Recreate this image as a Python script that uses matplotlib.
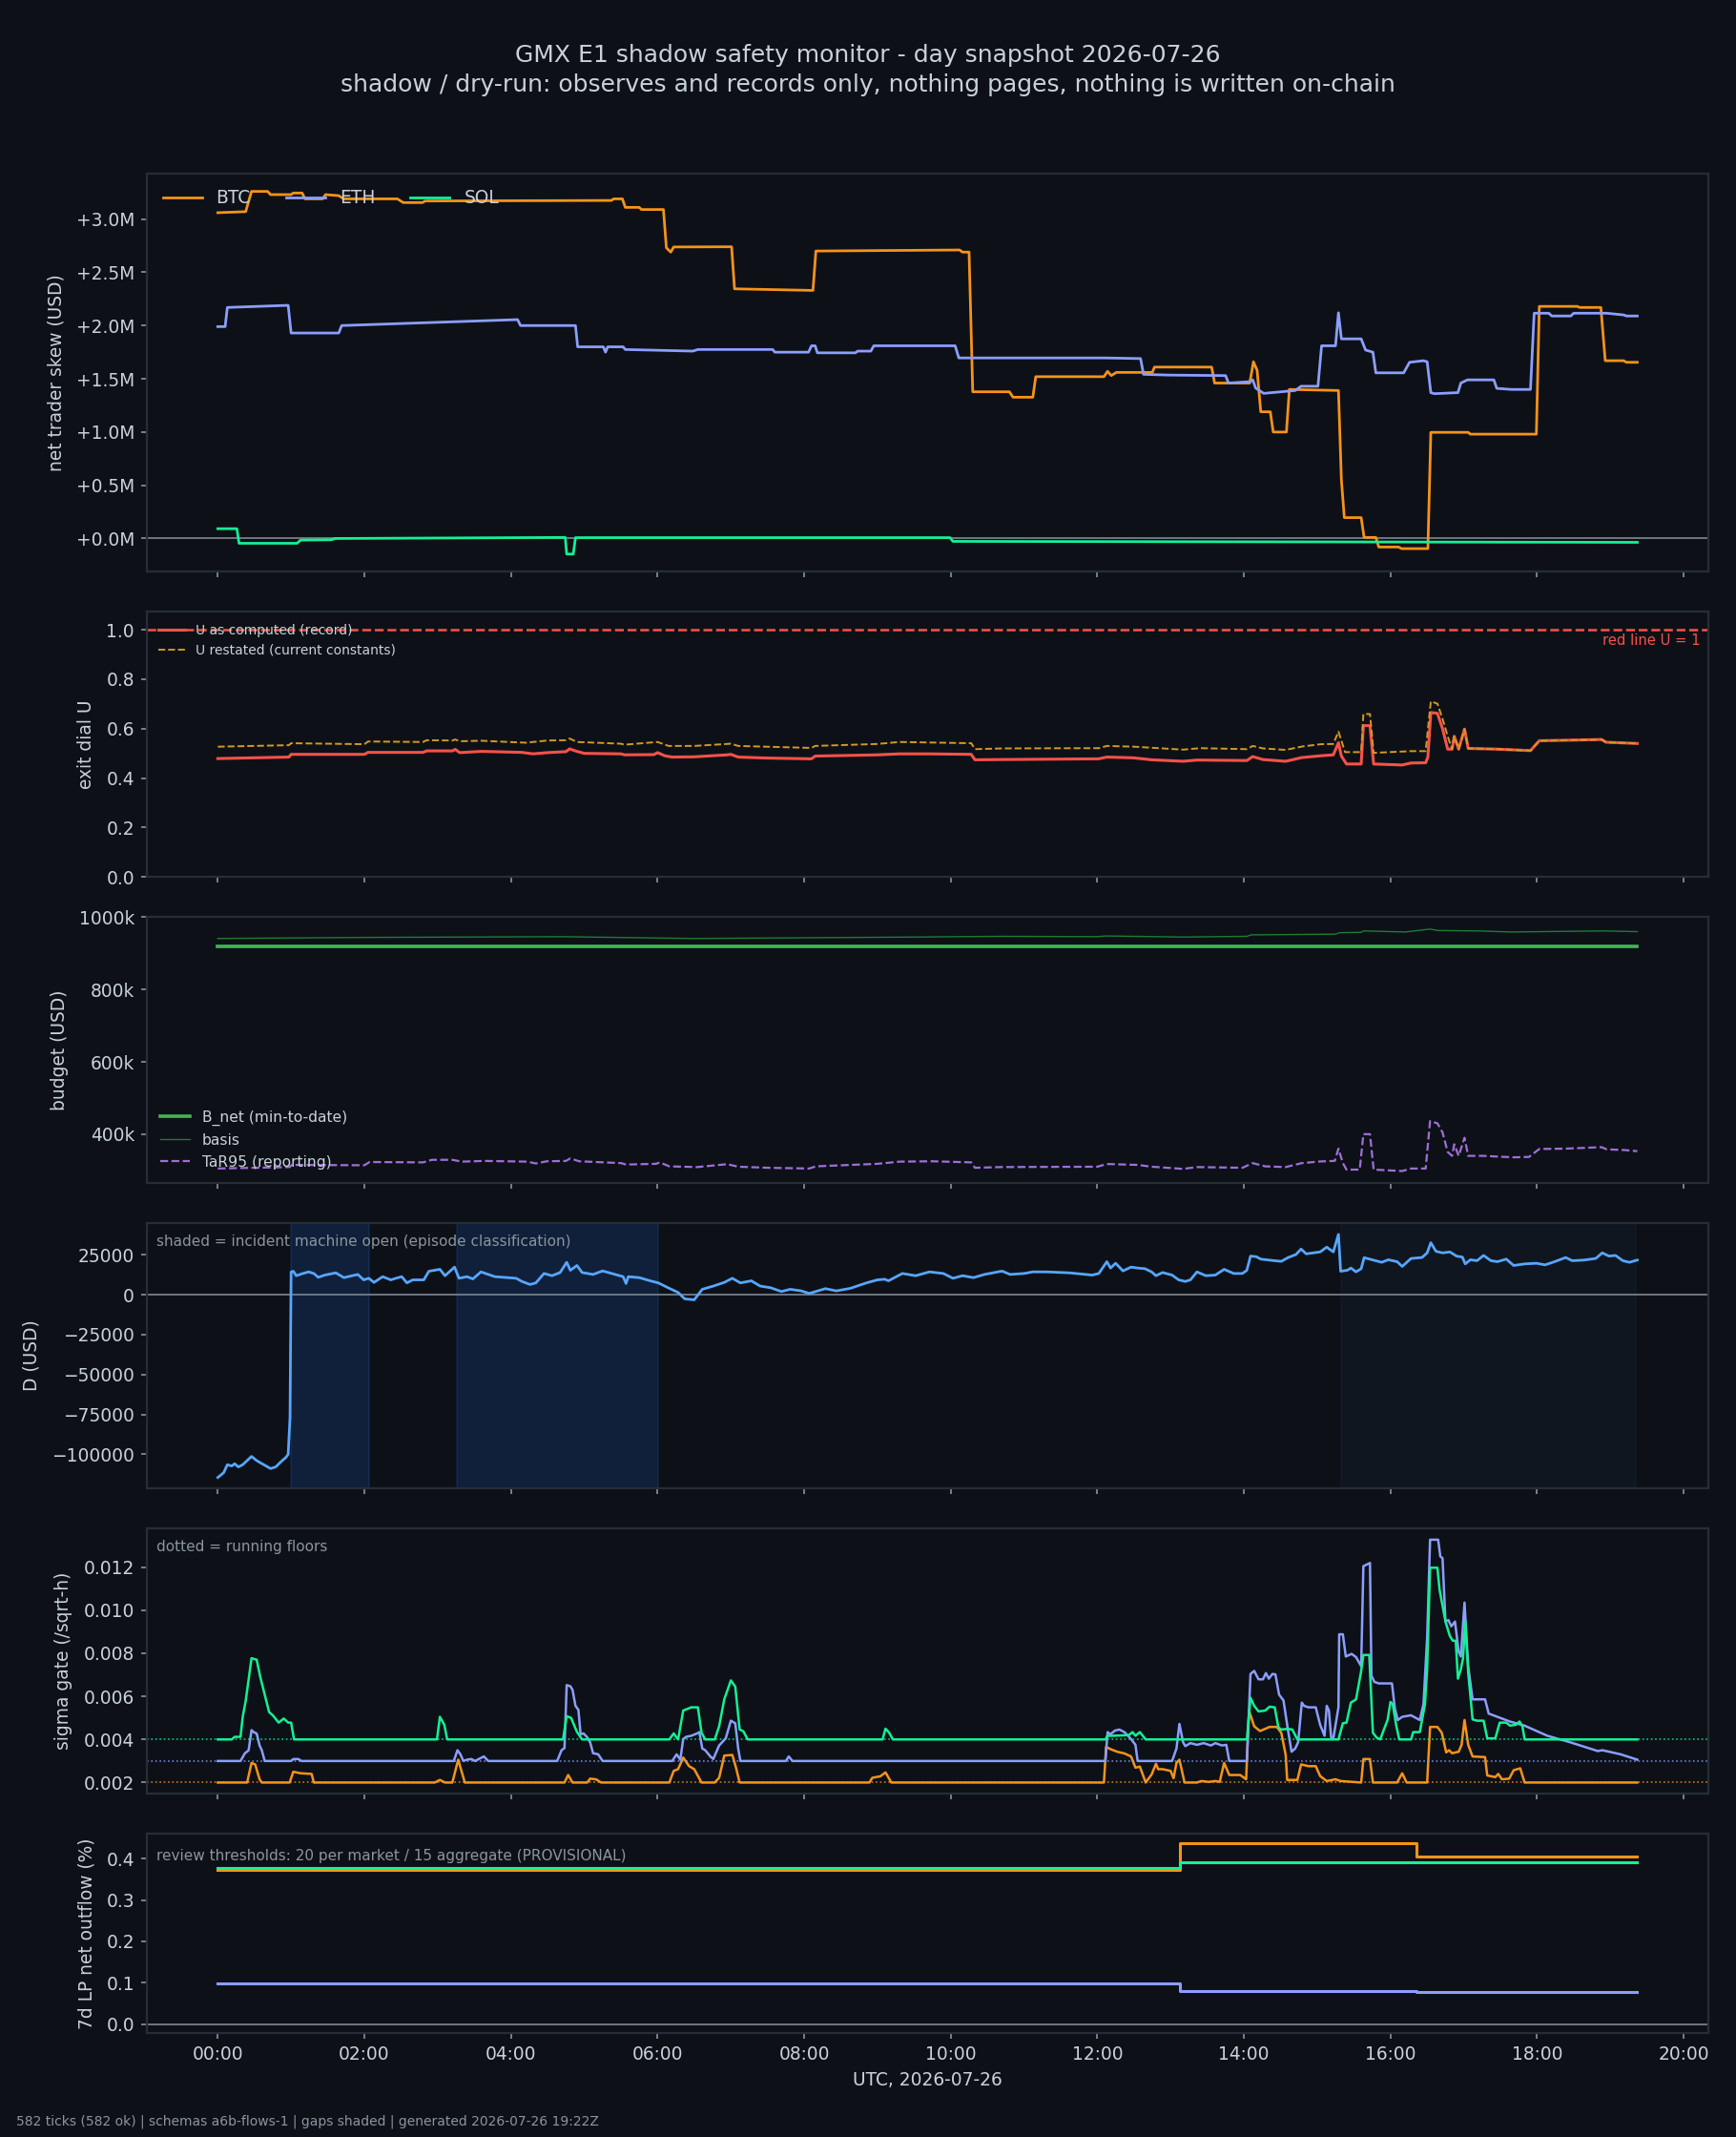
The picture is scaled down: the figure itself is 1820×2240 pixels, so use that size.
import matplotlib
matplotlib.use("Agg")
import matplotlib.pyplot as plt
import matplotlib.transforms as mtransforms
from matplotlib.ticker import FuncFormatter, MultipleLocator

# ---- data (hours since 00:00 UTC, value) ----
btc_skew = [(0, 3.06), (0.38, 3.07), (0.46, 3.26), (0.68, 3.26), (0.72, 3.23), (1.00, 3.23), (1.03, 3.245),
            (1.15, 3.245), (1.19, 3.19), (1.43, 3.19), (1.47, 3.23), (1.65, 3.22), (1.72, 3.19), (2.45, 3.19),
            (2.53, 3.155), (2.79, 3.155), (2.83, 3.17), (5.37, 3.175), (5.40, 3.19), (5.52, 3.19), (5.56, 3.11),
            (5.75, 3.11), (5.78, 3.09), (6.08, 3.09), (6.12, 2.73), (6.18, 2.69), (6.22, 2.738), (7.01, 2.74),
            (7.05, 2.345), (8.12, 2.33), (8.16, 2.70), (10.12, 2.71), (10.16, 2.69), (10.25, 2.69), (10.30, 1.378),
            (10.80, 1.378), (10.85, 1.327), (11.12, 1.327), (11.16, 1.52), (12.09, 1.52), (12.14, 1.57),
            (12.19, 1.53), (12.26, 1.56), (12.75, 1.56), (12.78, 1.61), (13.56, 1.61), (13.60, 1.46), (14.08, 1.46),
            (14.13, 1.66), (14.18, 1.58), (14.23, 1.19), (14.36, 1.19), (14.40, 1.00), (14.58, 1.00), (14.62, 1.40),
            (15.29, 1.39), (15.33, 0.55), (15.37, 0.196), (15.60, 0.196), (15.64, 0.01), (15.80, 0.01),
            (15.84, -0.08), (16.11, -0.08), (16.15, -0.095), (16.51, -0.095), (16.55, 0.997), (17.06, 0.997),
            (17.09, 0.98), (17.99, 0.98), (18.03, 2.18), (18.55, 2.18), (18.58, 2.17), (18.87, 2.17), (18.93, 1.67),
            (19.18, 1.67), (19.22, 1.655), (19.367, 1.655)]
eth_skew = [(0, 1.99), (0.10, 1.99), (0.13, 2.17), (0.96, 2.19), (1.00, 1.93), (1.65, 1.93), (1.69, 2.00),
            (4.09, 2.056), (4.13, 2.00), (4.88, 2.00), (4.91, 1.80), (5.26, 1.80), (5.29, 1.75), (5.32, 1.80),
            (5.53, 1.80), (5.56, 1.775), (6.48, 1.76), (6.55, 1.775), (7.57, 1.775), (7.60, 1.75), (8.06, 1.75),
            (8.10, 1.81), (8.15, 1.81), (8.18, 1.744), (8.70, 1.744), (8.73, 1.76), (8.91, 1.76), (8.95, 1.81),
            (10.06, 1.81), (10.11, 1.696), (12.10, 1.696), (12.59, 1.69), (12.63, 1.542), (12.97, 1.535),
            (13.75, 1.53), (13.79, 1.46), (14.08, 1.473), (14.12, 1.49), (14.16, 1.413), (14.27, 1.363),
            (14.70, 1.39), (14.78, 1.43), (15.01, 1.43), (15.06, 1.81), (15.25, 1.81), (15.29, 2.12), (15.33, 1.875),
            (15.60, 1.875), (15.66, 1.77), (15.76, 1.75), (15.80, 1.556), (16.18, 1.556), (16.26, 1.655),
            (16.45, 1.67), (16.50, 1.66), (16.55, 1.37), (16.60, 1.36), (16.92, 1.37), (16.96, 1.46), (17.05, 1.49),
            (17.41, 1.49), (17.45, 1.41), (17.65, 1.40), (17.91, 1.40), (17.96, 2.116), (18.16, 2.116),
            (18.20, 2.09), (18.46, 2.09), (18.50, 2.116), (18.95, 2.116), (19.18, 2.10), (19.22, 2.09),
            (19.367, 2.09)]
sol_skew = [(0, 0.092), (0.26, 0.092), (0.29, -0.045), (1.08, -0.045), (1.13, -0.015), (1.55, -0.012),
            (1.60, 0.0), (4.74, 0.01), (4.76, -0.146), (4.85, -0.146), (4.88, 0.008), (9.99, 0.008),
            (10.03, -0.027), (19.367, -0.036)]

u_computed = [(0, 0.479), (0.97, 0.485), (1.00, 0.496), (2.00, 0.496), (2.05, 0.504), (2.80, 0.504),
              (2.85, 0.510), (3.20, 0.510), (3.24, 0.516), (3.30, 0.503), (3.60, 0.508), (4.15, 0.504),
              (4.30, 0.498), (4.50, 0.503), (4.75, 0.507), (4.80, 0.518), (4.90, 0.508), (5.00, 0.500),
              (5.50, 0.498), (5.55, 0.494), (5.95, 0.495), (6.00, 0.503), (6.10, 0.490), (6.20, 0.485),
              (6.50, 0.486), (6.95, 0.494), (7.00, 0.496), (7.10, 0.485), (7.50, 0.481), (8.10, 0.478),
              (8.15, 0.489), (8.50, 0.491), (9.00, 0.494), (9.30, 0.498), (9.70, 0.498), (10.28, 0.496),
              (10.33, 0.474), (10.70, 0.475), (12.02, 0.478), (12.13, 0.485), (12.49, 0.482), (12.74, 0.474),
              (13.17, 0.468), (13.36, 0.473), (14.04, 0.471), (14.12, 0.487), (14.26, 0.475), (14.57, 0.468),
              (14.79, 0.483), (15.04, 0.490), (15.22, 0.494), (15.29, 0.543), (15.33, 0.489), (15.40, 0.457),
              (15.60, 0.457), (15.63, 0.612), (15.72, 0.612), (15.77, 0.457), (16.16, 0.453), (16.28, 0.461),
              (16.48, 0.462), (16.51, 0.485), (16.55, 0.665), (16.64, 0.662), (16.71, 0.600), (16.78, 0.517),
              (16.84, 0.517), (16.87, 0.569), (16.93, 0.517), (17.01, 0.598), (17.06, 0.520), (17.46, 0.517),
              (17.91, 0.511), (18.03, 0.551), (18.39, 0.553), (18.88, 0.556), (18.94, 0.545), (19.367, 0.540)]
u_restated = [(0, 0.527), (0.97, 0.533), (1.00, 0.541), (2.00, 0.537), (2.05, 0.548), (2.80, 0.546),
              (2.85, 0.553), (3.20, 0.552), (3.24, 0.556), (3.30, 0.549), (3.60, 0.551), (4.20, 0.543),
              (4.50, 0.552), (4.75, 0.553), (4.80, 0.560), (4.90, 0.546), (5.50, 0.539), (5.55, 0.535),
              (6.00, 0.546), (6.15, 0.530), (6.50, 0.530), (7.00, 0.539), (7.10, 0.530), (8.10, 0.522),
              (8.15, 0.530), (9.00, 0.538), (9.30, 0.546), (10.28, 0.541), (10.33, 0.517), (10.70, 0.520),
              (12.02, 0.521), (12.13, 0.530), (12.50, 0.527), (13.17, 0.515), (13.40, 0.521), (14.04, 0.517),
              (14.12, 0.530), (14.26, 0.520), (14.57, 0.514), (14.80, 0.528), (15.05, 0.537), (15.22, 0.538),
              (15.29, 0.588), (15.38, 0.505), (15.60, 0.505), (15.63, 0.659), (15.72, 0.659), (15.77, 0.502),
              (16.28, 0.509), (16.48, 0.509), (16.55, 0.710), (16.64, 0.701), (16.71, 0.640), (16.78, 0.569),
              (16.84, 0.517), (16.87, 0.569), (16.93, 0.517), (17.01, 0.598), (17.06, 0.520), (17.46, 0.517),
              (17.91, 0.511), (18.03, 0.551), (18.39, 0.553), (18.88, 0.556), (18.94, 0.545), (19.367, 0.540)]

# budget, thousands of USD
b_net = [(0, 920), (19.367, 920)]
basis = [(0, 941), (2.0, 944), (4.7, 946), (6.5, 941), (9.5, 945), (10.7, 947), (12.0, 946), (12.12, 948),
         (13.17, 945), (14.04, 947), (14.10, 951), (15.25, 953), (15.30, 957), (15.60, 958), (15.63, 962),
         (16.20, 959), (16.54, 967), (16.65, 963), (17.20, 962), (17.65, 959), (18.90, 962), (19.367, 960)]
tar95 = [(0, 305), (0.98, 309), (1.01, 315), (2.0, 314), (2.07, 323), (2.8, 322), (2.92, 329), (3.2, 329),
         (3.33, 324), (3.63, 326), (4.22, 324), (4.34, 319), (4.49, 325), (4.75, 326), (4.81, 333), (4.93, 325),
         (5.5, 320), (5.57, 316), (5.98, 318), (6.03, 322), (6.16, 311), (6.54, 309), (6.95, 317), (7.1, 310),
         (7.51, 307), (8.07, 305), (8.16, 311), (9.0, 318), (9.3, 324), (9.75, 325), (10.28, 322), (10.33, 307),
         (10.69, 309), (12.0, 310), (12.13, 317.5), (12.55, 315), (12.74, 310), (13.17, 304), (13.36, 309),
         (13.98, 307), (14.12, 320), (14.29, 311), (14.57, 309), (14.79, 320), (15.04, 324.5), (15.24, 326),
         (15.29, 360), (15.35, 320), (15.40, 302), (15.58, 302), (15.63, 400), (15.72, 400), (15.77, 302),
         (16.16, 298), (16.28, 305), (16.48, 305), (16.54, 436), (16.64, 430), (16.71, 405), (16.78, 351),
         (16.84, 340), (16.87, 372), (16.93, 340), (17.01, 390), (17.06, 340), (17.27, 340), (17.46, 338),
         (17.68, 336), (17.89, 337), (18.03, 359), (18.39, 360), (18.88, 364), (18.95, 358), (19.2, 356),
         (19.367, 353)]

d_usd = [(0, -114500), (0.08, -111500), (0.13, -106500), (0.19, -107300), (0.23, -105900), (0.28, -107900),
         (0.34, -106500), (0.46, -101300), (0.53, -103900), (0.60, -105800), (0.72, -108900), (0.79, -107900),
         (0.87, -104300), (0.93, -101900), (0.96, -100000), (0.985, -77000), (1.00, 14300), (1.03, 14700),
         (1.07, 11900), (1.16, 13300), (1.24, 14300), (1.31, 13300), (1.37, 10900), (1.46, 12300), (1.61, 13700),
         (1.72, 10700), (1.91, 12700), (1.99, 9300), (2.06, 10300), (2.13, 7700), (2.25, 11300), (2.36, 9300),
         (2.43, 10300), (2.51, 11300), (2.58, 7400), (2.66, 9300), (2.81, 9300), (2.88, 14700), (3.03, 15900),
         (3.10, 11900), (3.23, 17300), (3.29, 10300), (3.40, 11300), (3.48, 9900), (3.59, 14300), (3.78, 11300),
         (4.07, 10300), (4.15, 8300), (4.26, 6400), (4.34, 7400), (4.45, 13300), (4.56, 11900), (4.67, 13900),
         (4.76, 20300), (4.81, 15300), (4.90, 18300), (4.97, 13900), (5.12, 12700), (5.25, 14900), (5.42, 12700),
         (5.53, 11300), (5.57, 7000), (5.60, 11300), (5.75, 10700), (5.90, 8700), (6.01, 7400), (6.16, 4000),
         (6.28, 1400), (6.37, -2600), (6.50, -3200), (6.61, 3400), (6.76, 5400), (6.91, 7700), (7.02, 10300),
         (7.13, 7400), (7.28, 8700), (7.40, 5400), (7.54, 4400), (7.69, 2000), (7.81, 3400), (7.96, 2400),
         (8.07, 800), (8.29, 3800), (8.44, 2400), (8.63, 4000), (8.85, 7400), (9.00, 9300), (9.10, 9700),
         (9.15, 8700), (9.34, 13300), (9.52, 11900), (9.71, 14300), (9.90, 13300), (10.03, 10300),
         (10.16, 11900), (10.31, 10700), (10.46, 12700), (10.70, 14800), (10.81, 12700), (11.00, 13300),
         (11.12, 14300), (11.31, 14300), (11.62, 13700), (11.93, 12300), (12.02, 13300), (12.13, 20700),
         (12.18, 16700), (12.25, 19700), (12.35, 14900), (12.46, 17300), (12.55, 16700), (12.65, 16300),
         (12.74, 14300), (12.80, 11900), (12.89, 13900), (13.02, 12300), (13.11, 9300), (13.20, 8300),
         (13.27, 9300), (13.36, 14300), (13.48, 11900), (13.61, 12300), (13.73, 15900), (13.86, 13300),
         (13.98, 13300), (14.04, 15300), (14.09, 24200), (14.17, 23800), (14.23, 22300), (14.42, 21300),
         (14.51, 20900), (14.60, 23200), (14.71, 25200), (14.78, 28600), (14.85, 25600), (15.04, 26800),
         (15.13, 29800), (15.22, 26800), (15.29, 37800), (15.32, 14700), (15.41, 15300), (15.46, 16700),
         (15.53, 14300), (15.60, 16300), (15.64, 23200), (15.75, 21900), (15.88, 20300), (15.97, 21900),
         (16.09, 20700), (16.16, 17700), (16.28, 22700), (16.43, 23300), (16.50, 26200), (16.55, 32600),
         (16.62, 27200), (16.71, 26200), (16.81, 26800), (16.90, 24200), (16.98, 23600), (17.02, 19300),
         (17.09, 21900), (17.18, 21300), (17.27, 24600), (17.37, 21300), (17.46, 20700), (17.58, 22300),
         (17.68, 18300), (17.83, 19300), (17.99, 19700), (18.11, 18700), (18.24, 20700), (18.39, 23300),
         (18.48, 21300), (18.64, 21700), (18.80, 22700), (18.89, 26200), (18.98, 24200), (19.07, 24600),
         (19.17, 21300), (19.26, 20300), (19.367, 21700)]
incident_spans = [(1.00, 2.07), (3.26, 6.01)]
late_spans = [(15.32, 19.35)]

btc_sigma = [(0, 0.002), (0.40, 0.002), (0.46, 0.00291), (0.51, 0.00284), (0.57, 0.00215), (0.60, 0.002),
             (0.98, 0.002), (1.03, 0.0025), (1.13, 0.00243), (1.28, 0.0024), (1.31, 0.002), (2.96, 0.002),
             (3.03, 0.00212), (3.10, 0.002), (3.20, 0.002), (3.28, 0.00306), (3.37, 0.002), (4.73, 0.002),
             (4.78, 0.00235), (4.84, 0.002), (5.04, 0.002), (5.08, 0.00218), (5.16, 0.00215), (5.23, 0.002),
             (6.16, 0.002), (6.22, 0.00254), (6.28, 0.00262), (6.35, 0.00316), (6.43, 0.00276), (6.50, 0.00262),
             (6.60, 0.002), (6.78, 0.002), (6.84, 0.00222), (6.91, 0.00325), (7.02, 0.00328), (7.07, 0.00269),
             (7.12, 0.002), (8.89, 0.002), (8.93, 0.00222), (9.04, 0.00229), (9.11, 0.00247), (9.19, 0.002),
             (12.09, 0.002), (12.12, 0.00365), (12.18, 0.00355), (12.27, 0.00343), (12.37, 0.00335),
             (12.46, 0.00321), (12.52, 0.00269), (12.58, 0.00274), (12.66, 0.002), (12.74, 0.00237),
             (12.80, 0.00287), (12.83, 0.00262), (12.89, 0.00262), (13.00, 0.00254), (13.04, 0.0022),
             (13.08, 0.00291), (13.12, 0.00306), (13.19, 0.002), (13.36, 0.002), (13.42, 0.00207),
             (13.52, 0.00203), (13.61, 0.00207), (13.67, 0.00203), (13.73, 0.00291), (13.80, 0.00235),
             (13.95, 0.00235), (14.03, 0.00215), (14.07, 0.00534), (14.14, 0.00461), (14.22, 0.00439),
             (14.35, 0.00458), (14.45, 0.00458), (14.51, 0.00431), (14.57, 0.00328), (14.59, 0.00212),
             (14.73, 0.00212), (14.78, 0.00284), (14.88, 0.00276), (14.98, 0.00276), (15.04, 0.0023),
             (15.13, 0.00207), (15.25, 0.00215), (15.32, 0.00207), (15.60, 0.002), (15.63, 0.00309),
             (15.72, 0.00309), (15.76, 0.002), (16.09, 0.002), (16.16, 0.00243), (16.22, 0.002), (16.50, 0.002),
             (16.54, 0.00458), (16.64, 0.00458), (16.70, 0.00431), (16.76, 0.0034), (16.80, 0.0035),
             (16.84, 0.00336), (16.93, 0.00343), (16.97, 0.00375), (17.01, 0.0049), (17.06, 0.00375),
             (17.12, 0.00321), (17.29, 0.00318), (17.32, 0.00233), (17.43, 0.00225), (17.47, 0.0024),
             (17.52, 0.00215), (17.62, 0.00218), (17.68, 0.00257), (17.77, 0.00266), (17.83, 0.002),
             (19.367, 0.002)]
eth_sigma = [(0, 0.003), (0.31, 0.003), (0.37, 0.00336), (0.42, 0.00349), (0.46, 0.00443), (0.49, 0.00434),
             (0.53, 0.00427), (0.57, 0.00372), (0.60, 0.0035), (0.64, 0.003), (1.00, 0.003), (1.03, 0.00309),
             (1.10, 0.00309), (1.14, 0.003), (3.22, 0.003), (3.27, 0.0035), (3.31, 0.00331), (3.35, 0.003),
             (3.40, 0.00306), (3.46, 0.00309), (3.51, 0.003), (3.63, 0.00321), (3.69, 0.003), (4.63, 0.003),
             (4.69, 0.0035), (4.73, 0.0036), (4.76, 0.00652), (4.81, 0.00647), (4.84, 0.0063), (4.88, 0.00556),
             (4.92, 0.00537), (4.95, 0.00424), (4.99, 0.00428), (5.04, 0.0041), (5.08, 0.00387), (5.12, 0.00336),
             (5.19, 0.00331), (5.25, 0.003), (6.20, 0.003), (6.26, 0.00331), (6.31, 0.00306), (6.35, 0.00402),
             (6.39, 0.00412), (6.46, 0.00417), (6.54, 0.00428), (6.57, 0.00434), (6.61, 0.00358), (6.65, 0.0035),
             (6.72, 0.00321), (6.76, 0.00309), (6.84, 0.00372), (6.93, 0.00405), (7.00, 0.00487), (7.06, 0.00475),
             (7.10, 0.00358), (7.13, 0.003), (7.75, 0.003), (7.79, 0.00321), (7.84, 0.003), (12.11, 0.003),
             (12.14, 0.00434), (12.18, 0.00424), (12.24, 0.00441), (12.30, 0.00446), (12.37, 0.00434),
             (12.46, 0.00402), (12.52, 0.00375), (12.55, 0.003), (13.02, 0.003), (13.08, 0.00358),
             (13.12, 0.00472), (13.17, 0.00387), (13.20, 0.00369), (13.27, 0.00383), (13.36, 0.00375),
             (13.45, 0.00383), (13.55, 0.00372), (13.61, 0.00383), (13.70, 0.00372), (13.76, 0.00375),
             (13.80, 0.003), (14.04, 0.003), (14.09, 0.00704), (14.14, 0.00718), (14.20, 0.00679),
             (14.26, 0.00679), (14.30, 0.00708), (14.34, 0.00682), (14.39, 0.00704), (14.43, 0.00702),
             (14.48, 0.00608), (14.54, 0.00581), (14.60, 0.00446), (14.65, 0.00343), (14.70, 0.00358),
             (14.74, 0.00387), (14.79, 0.00571), (14.82, 0.00556), (14.88, 0.00549), (14.98, 0.00549),
             (15.04, 0.00468), (15.10, 0.00417), (15.13, 0.00556), (15.16, 0.00534), (15.19, 0.00409),
             (15.22, 0.00405), (15.29, 0.00549), (15.30, 0.00888), (15.35, 0.00888), (15.39, 0.00785),
             (15.47, 0.00797), (15.53, 0.00782), (15.60, 0.0074), (15.63, 0.01204), (15.72, 0.01219),
             (15.74, 0.00696), (15.78, 0.00667), (15.84, 0.0066), (16.02, 0.0066), (16.06, 0.00542),
             (16.10, 0.0049), (16.16, 0.00505), (16.28, 0.00512), (16.40, 0.0049), (16.45, 0.00564),
             (16.50, 0.00873), (16.54, 0.01327), (16.65, 0.01327), (16.68, 0.01249), (16.71, 0.01241),
             (16.75, 0.00947), (16.79, 0.00954), (16.83, 0.00925), (16.88, 0.00947), (16.93, 0.00807),
             (16.96, 0.00785), (17.01, 0.01035), (17.06, 0.0074), (17.12, 0.00586), (17.29, 0.00586),
             (17.34, 0.0052), (17.52, 0.00497), (17.63, 0.00483), (17.83, 0.00464), (18.14, 0.00417),
             (18.45, 0.00387), (18.83, 0.00346), (18.89, 0.0035), (19.14, 0.00331), (19.367, 0.00306)]
sol_sigma = [(0, 0.004), (0.19, 0.004), (0.23, 0.00412), (0.31, 0.00412), (0.34, 0.00505), (0.38, 0.00578),
             (0.46, 0.00777), (0.53, 0.0077), (0.58, 0.00689), (0.64, 0.00608), (0.70, 0.00527), (0.75, 0.00512),
             (0.83, 0.00478), (0.90, 0.00497), (0.96, 0.00478), (1.00, 0.00478), (1.04, 0.004), (2.99, 0.004),
             (3.03, 0.00505), (3.09, 0.00468), (3.13, 0.004), (4.71, 0.004), (4.76, 0.00508), (4.82, 0.005),
             (4.90, 0.00435), (4.97, 0.004), (6.16, 0.004), (6.22, 0.00428), (6.28, 0.004), (6.35, 0.00534),
             (6.46, 0.00549), (6.55, 0.00549), (6.60, 0.00431), (6.65, 0.004), (6.78, 0.004), (6.84, 0.00461),
             (6.91, 0.00586), (7.00, 0.00674), (7.06, 0.00645), (7.12, 0.00446), (7.17, 0.00438), (7.23, 0.004),
             (9.07, 0.004), (9.11, 0.0045), (9.16, 0.00431), (9.21, 0.004), (12.11, 0.004), (12.14, 0.00417),
             (12.21, 0.00417), (12.43, 0.0042), (12.48, 0.00434), (12.52, 0.00417), (12.58, 0.00434),
             (12.66, 0.004), (14.04, 0.004), (14.09, 0.00593), (14.14, 0.00556), (14.20, 0.0053), (14.29, 0.00534),
             (14.35, 0.00552), (14.42, 0.00549), (14.47, 0.00456), (14.51, 0.00446), (14.60, 0.00449),
             (14.66, 0.00446), (14.73, 0.004), (15.29, 0.004), (15.35, 0.00475), (15.40, 0.00478),
             (15.46, 0.00571), (15.53, 0.00586), (15.60, 0.00718), (15.63, 0.00792), (15.71, 0.00792),
             (15.76, 0.00431), (15.81, 0.00409), (15.86, 0.004), (15.91, 0.00446), (15.96, 0.0049),
             (16.00, 0.00574), (16.03, 0.00564), (16.08, 0.00461), (16.12, 0.004), (16.28, 0.004),
             (16.31, 0.00434), (16.40, 0.00434), (16.47, 0.00564), (16.50, 0.00726), (16.54, 0.01197),
             (16.64, 0.01197), (16.67, 0.01094), (16.75, 0.00947), (16.81, 0.0088), (16.85, 0.00858),
             (16.89, 0.00858), (16.92, 0.00682), (16.96, 0.00726), (16.99, 0.00777), (17.02, 0.00947),
             (17.06, 0.00711), (17.12, 0.00493), (17.18, 0.00487), (17.27, 0.00487), (17.32, 0.00405),
             (17.43, 0.00405), (17.49, 0.00478), (17.58, 0.00478), (17.63, 0.00464), (17.71, 0.00468),
             (17.76, 0.00483), (17.80, 0.00461), (17.83, 0.004), (19.367, 0.004)]
sigma_floors = [0.002, 0.003, 0.004]  # BTC, ETH, SOL

lp_times = [0, 13.13, 16.35, 19.367]
lp_btc = [0.372, 0.437, 0.404, 0.404]
lp_eth = [0.0973, 0.0805, 0.078, 0.078]
lp_sol = [0.377, 0.391, 0.391, 0.391]

markets = ["BTC", "ETH", "SOL"]
market_colors = ["#f7931a", "#8c9eff", "#14f195"]

# ---- style ----
BG = "#0d1117"
FG = "#c9d1d9"
MUTED = "#8b949e"
EDGE = "#272d36"
ZERO = "#6e7681"
FS = 6.7


def xy(pairs):
    return [p[0] for p in pairs], [p[1] for p in pairs]


fig = plt.figure(figsize=(9.1, 11.2), dpi=200, facecolor=BG)
gs = fig.add_gridspec(6, 1, height_ratios=[3, 2, 2, 2, 2, 1.5], left=0.0846, right=0.984,
                      top=0.9189, bottom=0.0487, hspace=0.145)
axes = [fig.add_subplot(gs[0])]
for i in range(1, 6):
    axes.append(fig.add_subplot(gs[i], sharex=axes[0]))

for ax in axes:
    ax.set_facecolor(BG)
    for s in ax.spines.values():
        s.set_color(EDGE)
        s.set_linewidth(0.8)
    ax.tick_params(colors=MUTED, labelcolor=FG, labelsize=FS, length=2.2, width=0.6, pad=2.5)
    ax.yaxis.label.set_color(FG)
    ax.yaxis.label.set_fontsize(FS)

ax1, ax2, ax3, ax4, ax5, ax6 = axes

# panel 1: net trader skew
for name, series, c in zip(markets, [btc_skew, eth_skew, sol_skew], market_colors):
    t, v = xy(series)
    ax1.plot(t, v, color=c, lw=1.0, label=name)
ax1.axhline(0, color=ZERO, lw=0.7, zorder=0)
ax1.set_ylim(-0.31, 3.43)
ax1.yaxis.set_major_locator(MultipleLocator(0.5))
ax1.yaxis.set_major_formatter(FuncFormatter(lambda v, p: f"{v:+.1f}M"))
ax1.set_ylabel("net trader skew (USD)")
ax1.legend(loc="upper left", ncol=3, frameon=False, fontsize=FS, labelcolor=FG, handlelength=2.2)

# panel 2: exit dial U
t, v = xy(u_computed)
ax2.plot(t, v, color="#f85149", lw=1.1, label="U as computed (record)")
t, v = xy(u_restated)
ax2.plot(t, v, color="#d29922", lw=0.7, ls="--", label="U restated (current constants)")
ax2.axhline(1.0, color="#f85149", lw=0.9, ls="--")
trans = mtransforms.blended_transform_factory(ax2.transAxes, ax2.transData)
ax2.text(0.995, 0.985, "red line U = 1", transform=trans, ha="right", va="top", fontsize=5.3, color="#f85149")
ax2.set_ylim(0, 1.073)
ax2.yaxis.set_major_locator(MultipleLocator(0.2))
ax2.set_ylabel("exit dial U")
ax2.legend(loc="upper left", frameon=False, fontsize=5.0, labelcolor=FG)

# panel 3: budget
t, v = xy(b_net)
ax3.plot(t, v, color="#3fb950", lw=1.3, label="B_net (min-to-date)")
t, v = xy(basis)
ax3.plot(t, v, color="#1f7a35", lw=0.5, label="basis")
t, v = xy(tar95)
ax3.plot(t, v, color="#9e6fd8", lw=0.8, ls="--", label="TaR95 (reporting)")
ax3.set_ylim(266, 1000)
ax3.yaxis.set_major_locator(MultipleLocator(200))
ax3.yaxis.set_major_formatter(FuncFormatter(lambda v, p: f"{v:.0f}k"))
ax3.set_ylabel("budget (USD)")
ax3.legend(loc="lower left", frameon=False, fontsize=5.6, labelcolor=FG)

# panel 4: D
for a, b in incident_spans:
    ax4.axvspan(a, b, color="#1f6feb", alpha=0.17, lw=0.6)
for a, b in late_spans:
    ax4.axvspan(a, b, color="#58a6ff", alpha=0.04, lw=0.6)
t, v = xy(d_usd)
ax4.plot(t, v, color="#58a6ff", lw=1.0)
ax4.axhline(0, color=ZERO, lw=0.7, zorder=1)
ax4.set_ylim(-121200, 45100)
ax4.yaxis.set_major_locator(MultipleLocator(25000))
ax4.yaxis.set_major_formatter(FuncFormatter(lambda v, p: f"{v:.0f}".replace("-", "\u2212")))
ax4.set_ylabel("D (USD)")
ax4.text(0.006, 0.955, "shaded = incident machine open (episode classification)", transform=ax4.transAxes,
         ha="left", va="top", fontsize=5.5, color=MUTED)

# panel 5: sigma gate
for series, floor, c in zip([btc_sigma, eth_sigma, sol_sigma], sigma_floors, market_colors):
    t, v = xy(series)
    ax5.plot(t, v, color=c, lw=0.9)
    ax5.axhline(floor, color=c, lw=0.6, ls=":", alpha=0.8)
ax5.set_ylim(0.00148, 0.0138)
ax5.yaxis.set_major_locator(MultipleLocator(0.002))
ax5.yaxis.set_major_formatter(FuncFormatter(lambda v, p: f"{v:.3f}"))
ax5.set_ylabel("sigma gate (/sqrt-h)")
ax5.text(0.006, 0.955, "dotted = running floors", transform=ax5.transAxes,
         ha="left", va="top", fontsize=5.5, color=MUTED)

# panel 6: LP net outflow
for vals, c in zip([lp_btc, lp_eth, lp_sol], market_colors):
    ax6.plot(lp_times, vals, color=c, lw=1.1, drawstyle="steps-post")
ax6.axhline(0, color=ZERO, lw=0.7, zorder=0)
ax6.set_ylim(-0.0215, 0.46)
ax6.yaxis.set_major_locator(MultipleLocator(0.1))
ax6.yaxis.set_major_formatter(FuncFormatter(lambda v, p: f"{v:.1f}"))
ax6.set_ylabel("7d LP net outflow (%)")
ax6.text(0.006, 0.925, "review thresholds: 20 per market / 15 aggregate (PROVISIONAL)",
         transform=ax6.transAxes, ha="left", va="top", fontsize=5.5, color=MUTED)

# shared time axis
ax6.set_xlim(-0.968, 20.335)
ax6.xaxis.set_major_locator(MultipleLocator(2))
ax6.xaxis.set_major_formatter(FuncFormatter(lambda v, p: f"{int(round(v)):02d}:00"))
ax6.set_xlabel("UTC, 2026-07-26", color=FG, fontsize=FS, labelpad=3)
for ax in axes[:-1]:
    ax.tick_params(labelbottom=False)

fig.text(0.5, 1 - 58 / 2240, "GMX E1 shadow safety monitor - day snapshot 2026-07-26",
         ha="center", va="center", fontsize=9.0, color=FG)
fig.text(0.5, 1 - 89 / 2240,
         "shadow / dry-run: observes and records only, nothing pages, nothing is written on-chain",
         ha="center", va="center", fontsize=9.0, color=FG)
fig.text(17 / 1820, 1 - 2224 / 2240,
         "582 ticks (582 ok) | schemas a6b-flows-1 | gaps shaded | generated 2026-07-26 19:22Z",
         ha="left", va="center", fontsize=5.0, color=MUTED)

fig.savefig("out.png", dpi=200, facecolor=BG)
